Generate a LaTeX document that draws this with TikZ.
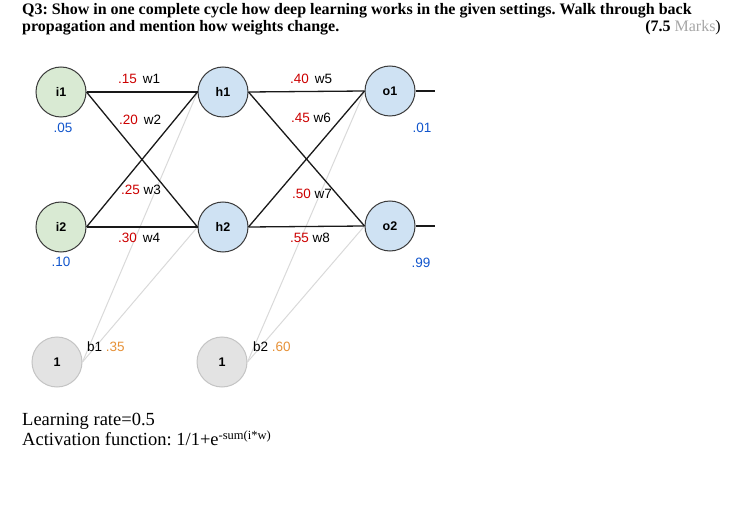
\documentclass[tikz,border=0pt]{standalone}
\usepackage{fontspec}
\setmainfont{Liberation Serif}
\newfontfamily\arialf{Liberation Sans}
\frenchspacing
\definecolor{wred}{HTML}{CC0000}
\definecolor{vblue}{HTML}{1155CC}
\definecolor{borange}{HTML}{E69138}
\definecolor{ingreen}{HTML}{D9EAD3}
\definecolor{hblue}{HTML}{CFE2F3}
\definecolor{bgray}{HTML}{E3E3E3}
\definecolor{bborder}{HTML}{C4C4C4}
\definecolor{nborder}{HTML}{3A3A3A}
\definecolor{markgray}{HTML}{A6A6A6}
\definecolor{blinegray}{HTML}{D9D9D9}
\begin{document}
\begin{tikzpicture}[x=1pt,y=-1pt,
  neuron/.style={circle,draw=nborder,line width=1pt,minimum size=50pt,inner sep=0pt,font=\arialf\fontsize{12.5}{14}\selectfont\bfseries},
  innode/.style={neuron,fill=ingreen},
  hidnode/.style={neuron,fill=hblue},
  biasnode/.style={circle,draw=bborder,line width=1pt,fill=bgray,minimum size=50pt,inner sep=0pt,font=\arialf\fontsize{12.5}{14}\selectfont\bfseries},
  conn/.style={draw=black!90,line width=1.3pt},
  bconn/.style={draw=blinegray,line width=1pt},
  wlab/.style={anchor=west,inner sep=0pt,font=\arialf\fontsize{13.5}{15}\selectfont},
  vlab/.style={inner sep=0pt,font=\arialf\fontsize{13.5}{15}\selectfont,text=vblue}]
\path[use as bounding box] (0,0) rectangle (741,505);

% title
\node[anchor=base west,inner sep=0pt,font=\fontsize{16}{18}\selectfont\bfseries] (t1) at (22,15)
  {Q3: Show in one complete cycle how deep learning works in the given settings. Walk through back};
\node[anchor=base west,inner sep=0pt,font=\fontsize{16}{18}\selectfont\bfseries] (t2) at (22,32)
  {propagation and mention how weights change.};
\node[anchor=base east,inner sep=0pt,font=\fontsize{16}{18}\selectfont] (t3) at (721,32)
  {\textbf{(7.5} \textcolor{markgray}{Marks})};

% nodes
\node[innode] (i1) at (61,92) {i1};
\node[innode] (i2) at (61,227) {i2};
\node[hidnode] (h1) at (223,92) {h1};
\node[hidnode] (h2) at (223,227) {h2};
\node[hidnode] (o1) at (390,91) {o1};
\node[hidnode] (o2) at (390,226) {o2};
\node[biasnode] (b1) at (57,362) {1};
\node[biasnode] (b2) at (222,362) {1};
\coordinate (out1) at (435,91);
\coordinate (out2) at (435,226);

% bias connectors
\draw[bconn] (b1.east) -- (h1.west);
\draw[bconn] (b1.east) -- (h2.west);
\draw[bconn] (b2.east) -- (o1.west);
\draw[bconn] (b2.east) -- (o2.west);

% main connectors
\draw[conn] (i1.east) -- (h1.west);
\draw[conn] (i1.east) -- (h2.west);
\draw[conn] (i2.east) -- (h1.west);
\draw[conn] (i2.east) -- (h2.west);
\draw[conn] (h1.east) -- (o1.west);
\draw[conn] (h1.east) -- (o2.west);
\draw[conn] (h2.east) -- (o1.west);
\draw[conn] (h2.east) -- (o2.west);
\draw[conn] (o1.east) -- (out1);
\draw[conn] (o2.east) -- (out2);

% weight labels
\node[wlab] (w1) at (118,79) {\textcolor{wred}{.15}\, w1};
\node[wlab] (w2) at (119,120) {\textcolor{wred}{.20}\, w2};
\node[wlab] (w3) at (121,190) {\textcolor{wred}{.25} w3};
\node[wlab] (w4) at (118,238) {\textcolor{wred}{.30}\, w4};
\node[wlab] (w5) at (290,79) {\textcolor{wred}{.40}\, w5};
\node[wlab] (w6) at (291,118) {\textcolor{wred}{.45} w6};
\node[wlab] (w7) at (292,194) {\textcolor{wred}{.50} w7};
\node[wlab] (w8) at (290,238) {\textcolor{wred}{.55} w8};

% value labels
\node[vlab] (v1) at (63,128) {.05};
\node[vlab] (v2) at (61,262) {.10};
\node[vlab] (v3) at (422,128) {.01};
\node[vlab] (v4) at (421,263) {.99};

% bias labels
\node[wlab] (bl1) at (87,347) {b1 \textcolor{borange}{.35}};
\node[wlab] (bl2) at (253,347) {b2 \textcolor{borange}{.60}};

% bottom text
\node[anchor=base west,inner sep=0pt,font=\fontsize{18.5}{20}\selectfont] (lr) at (22,425)
  {Learning rate=0.5};
\node[anchor=base west,inner sep=0pt,font=\fontsize{18.5}{20}\selectfont] (af) at (22,445)
  {Activation function: 1/1+e\raisebox{6pt}{\fontsize{12.5}{13}\selectfont -sum(i*w)}};
\end{tikzpicture}
\end{document}
